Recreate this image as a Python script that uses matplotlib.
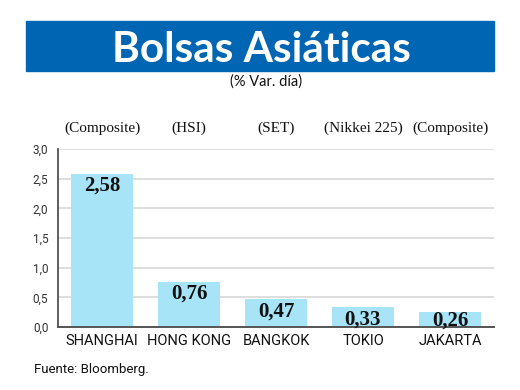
import matplotlib
matplotlib.use("Agg")
import matplotlib.pyplot as plt
from matplotlib.patches import Rectangle

# data
markets = ["SHANGHAI", "HONG KONG", "BANGKOK", "TOKIO", "JAKARTA"]
indices = ["(Composite)", "(HSI)", "(SET)", "(Nikkei 225)", "(Composite)"]
changes = [2.58, 0.76, 0.47, 0.33, 0.26]
yticks = [0.0, 0.5, 1.0, 1.5, 2.0, 2.5, 3.0]

W, H = 520, 390
fig = plt.figure(figsize=(W / 100, H / 100), dpi=100)
fig.patch.set_facecolor("white")

narrow = ["Roboto", "DejaVu Sans"]
serif = ["Liberation Serif", "DejaVu Serif"]

# blue banner with title
fig.patches.append(Rectangle((26 / W, 1 - 71 / H), (494 - 26) / W, 50 / H,
                             transform=fig.transFigure, color="#0066b3", zorder=0))
fig.text(261 / W, 1 - 62 / H, "Bolsas Asiáticas", color="white", fontsize=30.5,
         fontweight="bold", family="Lato", ha="center", va="baseline")
fig.text(266 / W, 1 - 86 / H, "(% Var. día)", fontsize=10.5, family="Lato",
         ha="center", va="baseline", color="#111111")

ax = fig.add_axes([58 / W, 1 - 327 / H, (494 - 58) / W, (327 - 149) / H])
x = list(range(len(markets)))
ax.bar(x, changes, width=0.713, color="#a8e4f8", zorder=2)
ax.set_xlim(-0.506, 4.506)
ax.set_ylim(0, 3.0)
ax.set_yticks(yticks)
ax.set_yticklabels([f"{v:.1f}".replace(".", ",") for v in yticks],
                   family=narrow, fontsize=8.5, color="#333333")
ax.set_xticks(x)
ax.set_xticklabels(markets, family=narrow, fontsize=10.5, color="#111111")
ax.tick_params(axis="both", length=0)
ax.tick_params(axis="x", pad=5)
ax.tick_params(axis="y", pad=7)
ax.yaxis.grid(True, color="#d8d8d8", linewidth=1.2, zorder=0)
ax.set_axisbelow(True)
for s in ["top", "right"]:
    ax.spines[s].set_visible(False)
ax.spines["left"].set_color("#444444")
ax.spines["bottom"].set_color("#555555")
ax.spines["bottom"].set_linewidth(1.4)
ax.spines["left"].set_linewidth(1.2)

for xi, v in zip(x, changes):
    ax.annotate(f"{v:.2f}".replace(".", ","), (xi, max(v, 0.32)),
                xytext=(0, -1.5), textcoords="offset points", ha="center", va="top",
                fontsize=15, fontweight="bold", family=serif, color="#111111",
                zorder=3)

# index names above the plot
for xi, name in zip(x, indices):
    px = (58 + (xi + 0.506) * 87) / W
    fig.text(px, 1 - 132 / H, name, family=serif, fontsize=11,
             ha="center", va="baseline", color="#111111")

fig.text(34 / W, 1 - 373 / H, "Fuente: Bloomberg.", family=narrow, fontsize=9.5,
         ha="left", va="baseline", color="#111111")

fig.savefig("out.png", dpi=100)
